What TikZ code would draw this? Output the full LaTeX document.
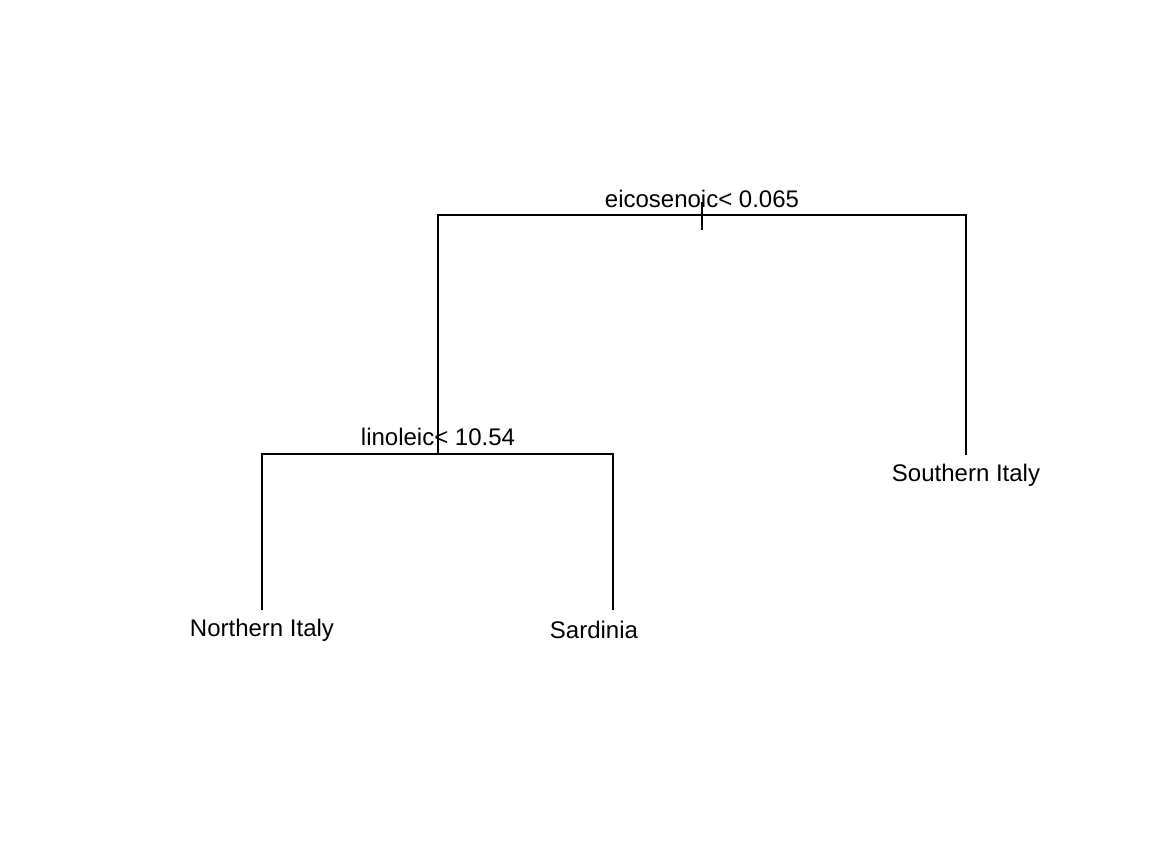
\documentclass[tikz,border=0pt]{standalone}
\usepackage{fontspec}
\setmainfont{Liberation Sans}

\begin{document}
\begin{tikzpicture}[
  x={(0.5pt,0)}, y={(0,-0.5pt)},
  branch/.style={line width=1pt},
  split/.style={anchor=base, inner sep=0pt, font=\fontsize{12}{14}\selectfont},
  leaf/.style={anchor=base, inner sep=0pt, font=\fontsize{12}{14}\selectfont}
]
\useasboundingbox (0,0) rectangle (1152,864);

% split points and leaf ends
\coordinate (root)   at (702,215);
\coordinate (lin)    at (438,454);
\coordinate (north)  at (262,610);
\coordinate (sard)   at (613,610);
\coordinate (south)  at (966,455);
\coordinate (tickA)  at (702,202);
\coordinate (tickB)  at (702,230);

\draw[branch] (lin) |- (root) -| (south);
\draw[branch] (tickA) -- (tickB);
\draw[branch] (north) |- (lin) -| (sard);

\node[split] (rootlab) at (702,207) {eicosenoic< 0.065};
\node[split] (linlab)  at (438,445) {linoleic< 10.54};

\node[leaf] (northlab) at (262,636) {Northern Italy};
\node[leaf] (sardlab)  at (594,638) {Sardinia};
\node[leaf] (southlab) at (966,481) {Southern Italy};

\end{tikzpicture}
\end{document}
